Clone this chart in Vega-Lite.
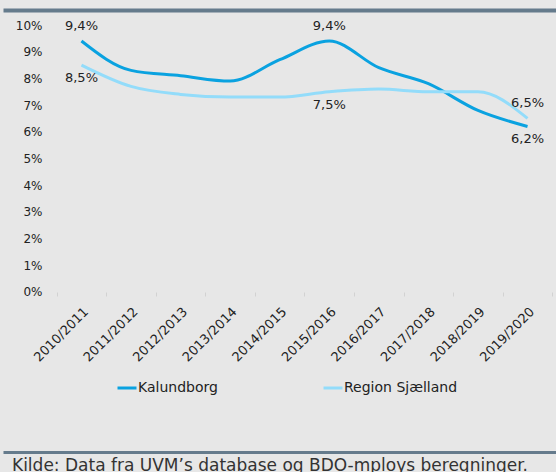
{
  "$schema": "https://vega.github.io/schema/vega-lite/v6.json",
  "width": 553,
  "height": 442,
  "autosize": {"type": "none"},
  "padding": {"left": 3, "top": 10, "right": 0, "bottom": 20},
  "background": "#e7e7e7",
  "title": {
    "text": "Kilde: Data fra UVM’s database og BDO-mploys beregninger.",
    "orient": "bottom",
    "anchor": "start",
    "frame": "group",
    "offset": 0,
    "dx": 9,
    "fontSize": 17,
    "fontWeight": "normal",
    "color": "#333333",
    "font": "DejaVu Sans"
  },
  "config": {
    "view": {"stroke": null},
    "font": "DejaVu Sans",
    "locale": {
      "number": {"decimal": ",", "thousands": ".", "grouping": [3], "currency": ["", " kr."]}
    }
  },
  "data": {
    "values": [
      {"year": "2010/2011", "series": "Kalundborg", "value": 0.094},
      {"year": "2011/2012", "series": "Kalundborg", "value": 0.083},
      {"year": "2012/2013", "series": "Kalundborg", "value": 0.081},
      {"year": "2013/2014", "series": "Kalundborg", "value": 0.079},
      {"year": "2014/2015", "series": "Kalundborg", "value": 0.087},
      {"year": "2015/2016", "series": "Kalundborg", "value": 0.094},
      {"year": "2016/2017", "series": "Kalundborg", "value": 0.084},
      {"year": "2017/2018", "series": "Kalundborg", "value": 0.078},
      {"year": "2018/2019", "series": "Kalundborg", "value": 0.068},
      {"year": "2019/2020", "series": "Kalundborg", "value": 0.062},
      {"year": "2010/2011", "series": "Region Sjælland", "value": 0.085},
      {"year": "2011/2012", "series": "Region Sjælland", "value": 0.077},
      {"year": "2012/2013", "series": "Region Sjælland", "value": 0.074},
      {"year": "2013/2014", "series": "Region Sjælland", "value": 0.073},
      {"year": "2014/2015", "series": "Region Sjælland", "value": 0.073},
      {"year": "2015/2016", "series": "Region Sjælland", "value": 0.075},
      {"year": "2016/2017", "series": "Region Sjælland", "value": 0.076},
      {"year": "2017/2018", "series": "Region Sjælland", "value": 0.075},
      {"year": "2018/2019", "series": "Region Sjælland", "value": 0.075},
      {"year": "2019/2020", "series": "Region Sjælland", "value": 0.065}
    ]
  },
  "encoding": {
    "x": {
      "field": "year",
      "type": "nominal",
      "sort": null,
      "scale": {
        "type": "band",
        "domain": ["2010/2011", "2011/2012", "2012/2013", "2013/2014", "2014/2015", "2015/2016", "2016/2017", "2017/2018", "2018/2019", "2019/2020"],
        "range": [0, 553],
        "paddingInner": 0,
        "paddingOuter": 0.579,
        "align": 0.9355
      },
      "axis": {
        "title": null,
        "labelAngle": -45,
        "labelFontSize": 13,
        "labelColor": "#222222",
        "tickBand": "extent",
        "tickSize": 4,
        "tickColor": "#d2d2d2",
        "domain": false,
        "offset": -160,
        "labelPadding": 9
      }
    },
    "y": {
      "field": "value",
      "type": "quantitative",
      "scale": {"domain": [-0.05993, 0.10562], "nice": false, "zero": false},
      "axis": {
        "title": null,
        "values": [-0.05993, 0, 0.01, 0.02, 0.03, 0.04, 0.05, 0.06, 0.07, 0.08, 0.09, 0.1, 0.10562],
        "format": ".0%",
        "labelExpr": "datum.value < -0.001 || datum.value > 0.1001 ? '' : datum.label",
        "labelOverlap": false,
        "labelFlush": false,
        "labelAlign": "right",
        "labelPadding": -39,
        "labelFontSize": 12,
        "labelColor": "#222222",
        "ticks": false,
        "tickSize": 0,
        "domain": false,
        "grid": true,
        "gridColor": "#657b8c",
        "gridOpacity": {"condition": {"test": "datum.value < -0.001 || datum.value > 0.1001", "value": 1}, "value": 0},
        "gridWidth": {"condition": {"test": "datum.value > 0", "value": 4}, "value": 3}
      }
    }
  },
  "layer": [
    {
      "data": {"values": [{"axis": "x"}]},
      "mark": {"type": "rule", "color": "#d2d2d2", "strokeWidth": 1},
      "encoding": {
        "x": {"datum": "2010/2011", "type": "nominal", "bandPosition": 0},
        "x2": {"datum": "2019/2020", "bandPosition": 1},
        "y": {"datum": 0, "type": "quantitative"}
      }
    },
    {
      "mark": {"type": "line", "strokeWidth": 3, "interpolate": "monotone"},
      "encoding": {
        "color": {
          "field": "series",
          "type": "nominal",
          "scale": {"domain": ["Kalundborg", "Region Sjælland"], "range": ["#0aa2e0", "#93dcfa"]},
          "legend": {
            "orient": "none",
            "legendX": 113,
            "legendY": 367,
            "direction": "horizontal",
            "title": null,
            "symbolType": "stroke",
            "symbolStrokeWidth": 3,
            "symbolSize": 361,
            "labelOffset": 0,
            "columnPadding": 99,
            "labelFontSize": 14,
            "labelColor": "#222222"
          }
        }
      }
    },
    {
      "transform": [
        {"filter": "(datum.series == 'Kalundborg' && (datum.year == '2010/2011' || datum.year == '2015/2016')) || (datum.series == 'Region Sjælland' && datum.year == '2019/2020')"}
      ],
      "mark": {"type": "text", "dy": -15, "fontSize": 13, "color": "#222222", "align": "center", "baseline": "middle"},
      "encoding": {"text": {"field": "value", "type": "quantitative", "format": ".1%"}}
    },
    {
      "transform": [
        {"filter": "(datum.series == 'Region Sjælland' && (datum.year == '2010/2011' || datum.year == '2015/2016')) || (datum.series == 'Kalundborg' && datum.year == '2019/2020')"}
      ],
      "mark": {"type": "text", "dy": 13, "fontSize": 13, "color": "#222222", "align": "center", "baseline": "middle"},
      "encoding": {"text": {"field": "value", "type": "quantitative", "format": ".1%"}}
    }
  ]
}
